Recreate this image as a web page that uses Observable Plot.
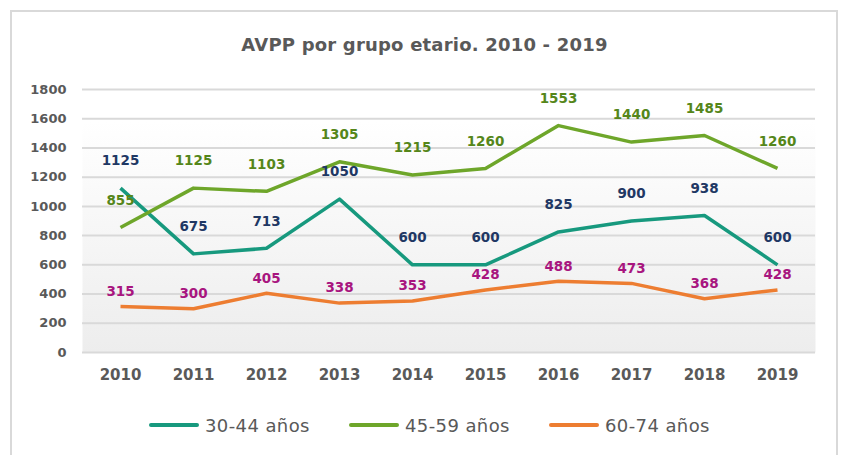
<!DOCTYPE html>
<html><head><meta charset="utf-8">
<script src="https://cdn.jsdelivr.net/npm/d3@7"></script>
<script src="https://cdn.jsdelivr.net/npm/@observablehq/plot@0.6"></script>
<style>
body{margin:0;background:#fff;width:849px;height:455px;overflow:hidden;position:relative;font-family:"DejaVu Sans",sans-serif}
#frame{position:absolute;left:10px;top:10px;width:828px;height:470px;border:2px solid #d9d9d9;box-sizing:border-box}
#title{position:absolute;left:0;width:849px;top:34px;text-align:center;font-weight:bold;font-size:18px;color:#595959;line-height:22px;letter-spacing:0.2px}
#chart{position:absolute;left:0;top:0}
.item{position:absolute;top:414px;height:22px;display:flex;align-items:center;font-size:18px;color:#595959;letter-spacing:0.4px}
.sw{width:50px;height:4px;border-radius:2px;margin-right:6px}
</style></head>
<body>
<div id="frame"></div>
<div id="title">AVPP por grupo etario. 2010 - 2019</div>
<div id="chart"></div>
<div id="legend"></div>
<script>
const years = [2010, 2011, 2012, 2013, 2014, 2015, 2016, 2017, 2018, 2019];
const seriesNames = ["30-44 años", "45-59 años", "60-74 años"];
const s3044 = [1125, 675, 713, 1050, 600, 600, 825, 900, 938, 600];
const s4559 = [855, 1125, 1103, 1305, 1215, 1260, 1553, 1440, 1485, 1260];
const s6074 = [315, 300, 405, 338, 353, 428, 488, 473, 368, 428];
const yTicks = [0, 200, 400, 600, 800, 1000, 1200, 1400, 1600, 1800];

const lineColors = ["#17997e", "#6ea62a", "#ed7d31"];
const labelColors = ["#1f3864", "#55861a", "#a8157f"];
const labelDy = [-27, -27, -15];

const allSeries = [s3044, s4559, s6074];
const data = allSeries.flatMap((vals, i) => vals.map((v, j) => ({year: years[j], value: v, series: seriesNames[i]})));

const marks = [
  Plot.frame({fill: "url(#bgGrad)", stroke: null}),
  Plot.ruleY(yTicks, {stroke: "#d9d9d9", strokeWidth: 2}),
  Plot.axisY({ticks: yTicks, tickSize: 0, tickPadding: 16, fontWeight: "bold", fontSize: 13, fill: "#595959", label: null, tickFormat: d => String(d)}),
  Plot.axisX({tickSize: 0, tickPadding: 17, fontWeight: "bold", fontSize: 15, fill: "#595959", label: null, tickFormat: d => String(d)}),
  Plot.line(data, {x: "year", y: "value", stroke: "series", strokeWidth: 3.5, strokeLinejoin: "round", strokeLinecap: "butt"})
];
seriesNames.forEach((name, i) => {
  marks.push(Plot.text(data.filter(d => d.series === name), {
    x: "year", y: "value", text: d => String(d.value), dy: labelDy[i],
    fill: labelColors[i], fontWeight: "bold", fontSize: 13.5
  }));
});

const chart = Plot.plot({
  width: 849, height: 400,
  marginTop: 89, marginBottom: 48, marginLeft: 82, marginRight: 34,
  style: {fontFamily: "DejaVu Sans, sans-serif", background: "transparent", overflow: "visible"},
  x: {type: "point", domain: years, padding: 0.5},
  y: {domain: [0, 1800]},
  color: {domain: seriesNames, range: lineColors},
  marks
});
d3.select(chart).insert("defs", ":first-child").html(
  '<linearGradient id="bgGrad" x1="0" y1="0" x2="0" y2="1">' +
  '<stop offset="0" stop-color="#ffffff"/><stop offset="0.12" stop-color="#ffffff"/>' +
  '<stop offset="1" stop-color="#ededed"/></linearGradient>');
document.getElementById("chart").appendChild(chart);

const legend = document.getElementById("legend");
seriesNames.forEach((name, i) => {
  const item = document.createElement("div");
  item.className = "item";
  item.style.left = (149 + i * 200) + "px";
  const sw = document.createElement("div");
  sw.className = "sw";
  sw.style.background = lineColors[i];
  const tx = document.createElement("span");
  tx.textContent = name;
  item.appendChild(sw);
  item.appendChild(tx);
  legend.appendChild(item);
});
</script>
</body></html>
